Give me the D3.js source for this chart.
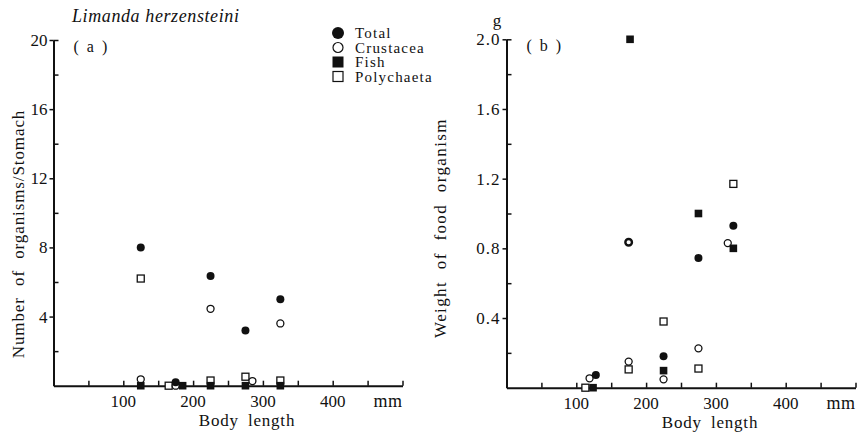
<!DOCTYPE html>
<html>
<head>
<meta charset="utf-8">
<script src="https://cdn.jsdelivr.net/npm/d3@7"></script>
<style>
  body { margin: 0; background: #fff; }
  text { font-family: "Liberation Serif", "DejaVu Serif", serif; fill: #111; }
</style>
</head>
<body>
<div id="chart-area"></div>
<script>
// Stomach contents of Limanda herzensteini by body length

// (a) number of organisms / stomach
var aTotal = [[125, 8.0], [175, 0.2], [225, 6.35], [275, 3.2], [325, 5.0]];
var aCrustacea = [[125, 0.37], [175, 0.0], [225, 4.45], [285, 0.27], [325, 3.6]];
var aFish = [[125, 0], [185, 0], [225, 0], [275, 0], [325, 0]];
var aPolychaeta = [[125, 6.2], [165, 0], [225, 0.3], [275, 0.52], [325, 0.3]];

// (b) weight of food organism, g
var bTotal = [[128, 0.073], [225, 0.18], [275, 0.745], [325, 0.93]];
var bCrustacea = [[119, 0.054], [175, 0.15], [225, 0.048], [275, 0.226], [317, 0.83]];
var bFish = [[124, 0], [177, 2.0], [225, 0.098], [275, 1.0], [325, 0.8]];
var bPolychaeta = [[113, 0], [175, 0.105], [225, 0.38], [275, 0.11], [325, 1.17]];
var bRinged = [[175, 0.835]];

var xTicks = [50, 100, 150, 200, 250, 300, 350, 400, 450, 500];
var xTickLabels = [100, 200, 300, 400];
var aMajor = [4, 8, 12, 16, 20], aMinor = [2, 6, 10, 14, 18];
var bMajor = [0.4, 0.8, 1.2, 1.6, 2.0], bMinor = [0.2, 0.6, 1.0, 1.4, 1.8];

var legendNames = ["Total", "Crustacea", "Fish", "Polychaeta"];
var legendShapes = ["dot", "ring", "box", "square"];

var svg = d3.select("#chart-area").append("svg")
    .attr("width", 858)
    .attr("height", 432);

function drawPanel(p) {
    var x = d3.scaleLinear().domain([0, 500]).range(p.xr);
    var y = d3.scaleLinear().domain(p.yDomain).range(p.yr);
    var g = svg.append("g");

    // x axis, ticks pointing up
    g.append("g")
        .attr("transform", "translate(0," + p.yr[0] + ")")
        .call(d3.axisBottom(x).tickValues(xTicks).tickSizeInner(-5).tickSizeOuter(0).tickFormat(""))
        .call(function(s) {
            s.select(".domain").attr("stroke", "#111").attr("stroke-width", 2);
            s.selectAll(".tick line").attr("stroke", "#111").attr("stroke-width", 1.5);
        });
    g.selectAll(".xlab").data(xTickLabels).enter().append("text")
        .attr("x", function(d) { return x(d); })
        .attr("y", p.yr[0] + 21)
        .attr("text-anchor", "middle")
        .attr("font-size", "17px")
        .text(function(d) { return d; });
    g.append("text")
        .attr("x", x(500))
        .attr("y", p.yr[0] + 21)
        .attr("text-anchor", "end")
        .attr("font-size", "18px")
        .attr("letter-spacing", "0.5px")
        .text("mm");
    g.append("text")
        .attr("x", p.xLabelX)
        .attr("y", p.yr[0] + 40)
        .attr("text-anchor", "middle")
        .attr("font-size", "17px")
        .attr("letter-spacing", "0.8px")
        .attr("word-spacing", "4px")
        .text("Body length");

    // y axis: major ticks outward with labels, minor ticks inward
    g.append("g")
        .attr("transform", "translate(" + p.xr[0] + ",0)")
        .call(d3.axisLeft(y).tickValues(p.major).tickSizeInner(4).tickSizeOuter(0).tickPadding(2).tickFormat(p.fmt))
        .call(function(s) {
            s.select(".domain").attr("stroke", "#111").attr("stroke-width", 2);
            s.selectAll(".tick line").attr("stroke", "#111").attr("stroke-width", 1.5);
            s.selectAll(".tick text").attr("font-size", "17px").attr("font-family", "Liberation Serif")
                .attr("letter-spacing", p.tickSpacing).attr("fill", "#111");
        });
    g.append("g")
        .attr("transform", "translate(" + p.xr[0] + ",0)")
        .call(d3.axisLeft(y).tickValues(p.minor.concat([p.yDomain[1]])).tickSizeInner(-5).tickSizeOuter(0).tickFormat(""))
        .call(function(s) {
            s.select(".domain").remove();
            s.selectAll(".tick line").attr("stroke", "#111").attr("stroke-width", 1.5);
        });
    g.append("text")
        .attr("transform", "translate(" + p.yLabelX + "," + p.yLabelY + ") rotate(-90)")
        .attr("text-anchor", "middle")
        .attr("font-size", "17px")
        .attr("letter-spacing", p.yLabelSpacing)
        .attr("word-spacing", "6px")
        .text(p.yLabel);
    g.append("text")
        .attr("x", p.xr[0] + 20)
        .attr("y", p.yr[1] + 12)
        .attr("font-size", "16px")
        .attr("word-spacing", "4px")
        .text(p.tag);

    // markers
    function px(d) { return x(d[0]); }
    function py(d) { return y(d[1]); }
    g.selectAll(".pol").data(p.pol).enter().append("rect")
        .attr("x", function(d) { return px(d) - 3.5; })
        .attr("y", function(d) { return py(d) - 3.5; })
        .attr("width", 7).attr("height", 7)
        .attr("fill", "#fff").attr("stroke", "#111").attr("stroke-width", 1.3);
    g.selectAll(".cru").data(p.cru).enter().append("circle")
        .attr("cx", px).attr("cy", py).attr("r", 3.5)
        .attr("fill", "#fff").attr("stroke", "#111").attr("stroke-width", 1.3);
    g.selectAll(".fish").data(p.fish).enter().append("rect")
        .attr("x", function(d) { return px(d) - 3.8; })
        .attr("y", function(d) { return py(d) - 3.8; })
        .attr("width", 7.6).attr("height", 7.6)
        .attr("fill", "#111");
    g.selectAll(".tot").data(p.tot).enter().append("circle")
        .attr("cx", px).attr("cy", py).attr("r", 4)
        .attr("fill", "#111");
    g.selectAll(".ringed").data(p.ringed || []).enter().append("circle")
        .attr("cx", px).attr("cy", py).attr("r", 3.3)
        .attr("fill", "#fff").attr("stroke", "#111").attr("stroke-width", 2.4);
}

drawPanel({
    xr: [53.5, 402.5], yr: [385.7, 40], yDomain: [0, 20],
    major: aMajor, minor: aMinor, fmt: d3.format("d"), tickSpacing: "0px",
    yLabel: "Number of organisms/Stomach", yLabelX: 24, yLabelY: 234, yLabelSpacing: "0.9px",
    xLabelX: 247, tag: "( a )",
    tot: aTotal, cru: aCrustacea, fish: aFish, pol: aPolychaeta
});
drawPanel({
    xr: [506.5, 855.5], yr: [387.7, 39.3], yDomain: [0, 2],
    major: bMajor, minor: bMinor, fmt: d3.format(".1f"), tickSpacing: "1px",
    yLabel: "Weight of food organism", yLabelX: 446, yLabelY: 228, yLabelSpacing: "1.4px",
    xLabelX: 710, tag: "( b )",
    tot: bTotal, cru: bCrustacea, fish: bFish, pol: bPolychaeta, ringed: bRinged
});

// unit of panel (b)
svg.append("text")
    .attr("x", 497).attr("y", 26)
    .attr("text-anchor", "middle")
    .attr("font-size", "17px")
    .text("g");

// species title
svg.append("text")
    .attr("x", 72).attr("y", 22)
    .attr("font-size", "18px")
    .attr("font-style", "italic")
    .attr("letter-spacing", "0.6px")
    .text("Limanda herzensteini");

// legend
var legend = svg.append("g").attr("transform", "translate(338,33)");
var rows = legend.selectAll("g").data(legendNames).enter().append("g")
    .attr("transform", function(d, i) { return "translate(0," + (i * 14.5) + ")"; });
rows.each(function(d, i) {
    var r = d3.select(this);
    var shape = legendShapes[i];
    if (shape === "dot") r.append("circle").attr("r", 6).attr("fill", "#111");
    if (shape === "ring") r.append("circle").attr("r", 5).attr("fill", "#fff").attr("stroke", "#111").attr("stroke-width", 1.2);
    if (shape === "box") r.append("rect").attr("x", -5.5).attr("y", -5.5).attr("width", 11).attr("height", 11).attr("fill", "#111");
    if (shape === "square") r.append("rect").attr("x", -5).attr("y", -5).attr("width", 10).attr("height", 10).attr("fill", "#fff").attr("stroke", "#111").attr("stroke-width", 1.2);
});
rows.append("text")
    .attr("x", 17).attr("y", 5)
    .attr("font-size", "15px")
    .attr("letter-spacing", "1.2px")
    .text(function(d) { return d; });
</script>
</body>
</html>
